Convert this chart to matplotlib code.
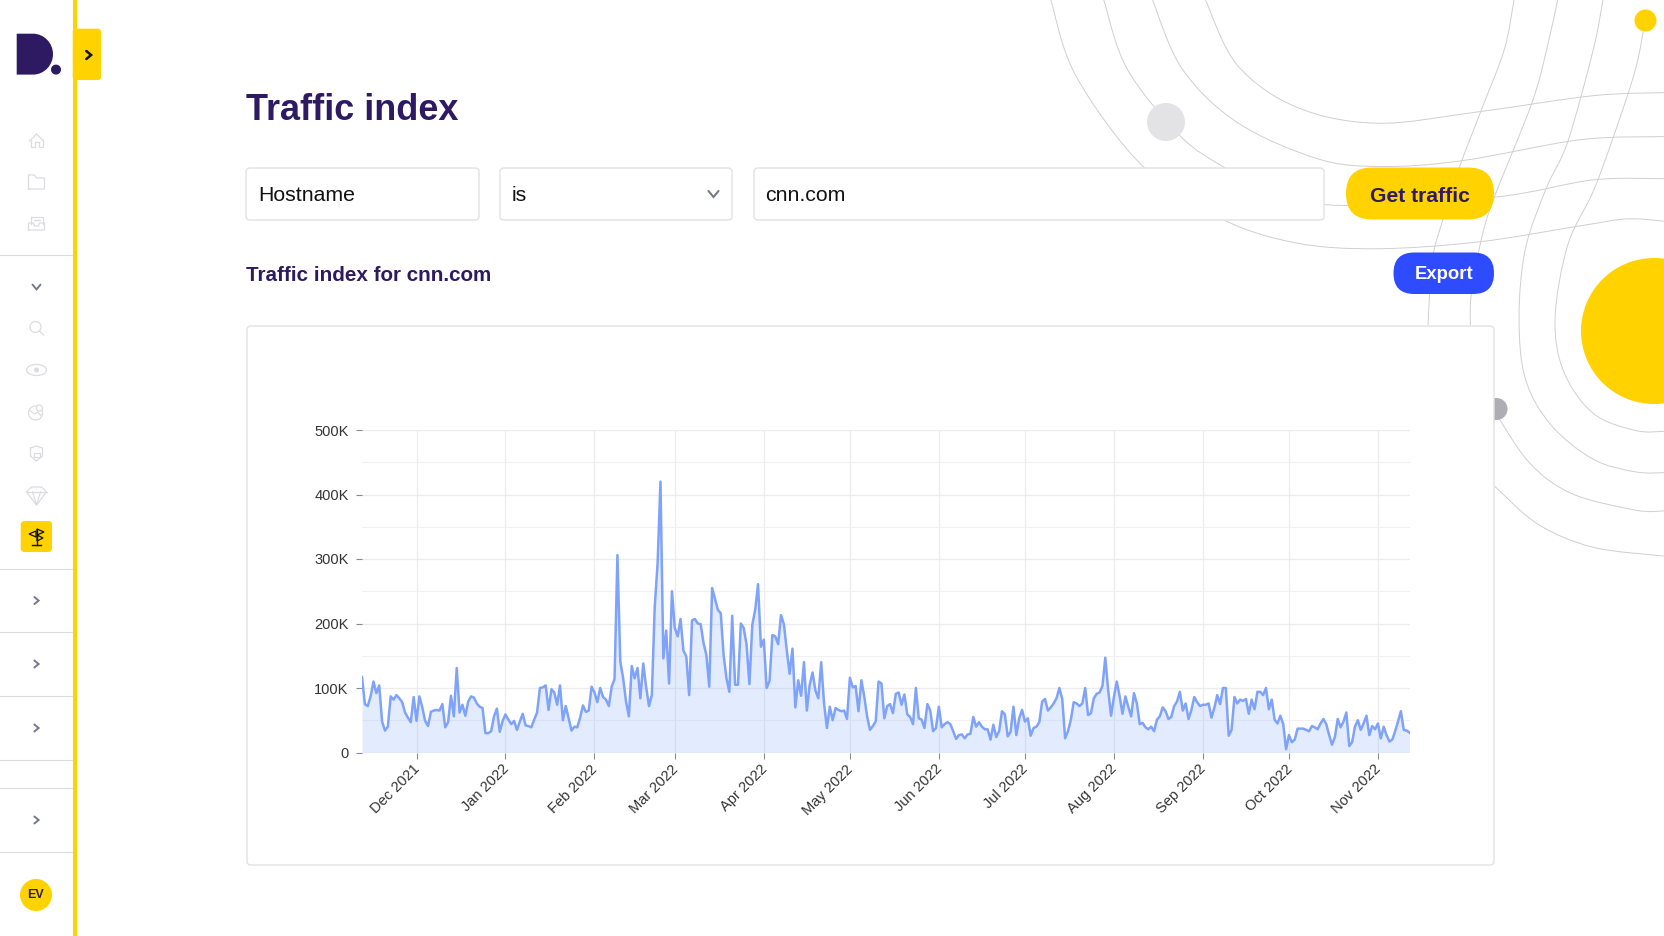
"""
Traffic index page for cnn.com: dashboard chrome drawn in pixel coordinates,
area chart of the daily traffic index on its own axes.
"""

import matplotlib
matplotlib.use("Agg")
import matplotlib.pyplot as plt
import numpy as np
import pandas as pd
from matplotlib.patches import Circle, Ellipse, FancyBboxPatch, PathPatch, Polygon, Rectangle
from matplotlib.path import Path

plt.rcParams["font.family"] = ["Liberation Sans", "DejaVu Sans"]

W, H = 1664, 936

PURPLE = "#2e1a63"
YELLOW = "#ffd200"
BLUE = "#2f4bff"
ICON = "#dcdce0"
BORDER = "#e2e2e4"
ARC = "#cfcfd2"

# ── Daily index values, in thousands, one list per month ─────────────────────
NOV_2021 = [117, 75, 72, 87, 110, 92, 104, 48, 34, 40, 87, 82, 89, 84, 78, 62, 54, 47, 86]
DEC_2021 = [49, 87, 70, 49, 41, 63, 65, 66, 65, 75, 39, 47, 88, 56, 131, 62, 74, 57, 79, 87,
            85, 76, 71, 69, 30, 30, 33, 56, 68, 32, 49]
JAN_2022 = [59, 51, 44, 49, 35, 48, 60, 42, 41, 39, 51, 62, 100, 101, 104, 66, 98, 93, 74, 104,
            50, 72, 53, 34, 40, 39, 54, 73, 63, 65, 102]
FEB_2022 = [93, 78, 100, 86, 82, 72, 102, 114, 306, 141, 115, 79, 56, 134, 115, 131, 84, 138,
            102, 72, 89, 226, 293, 420, 146, 189, 107, 250]
MAR_2022 = [193, 180, 207, 158, 149, 89, 205, 207, 200, 199, 170, 151, 102, 255, 238, 221, 216,
            151, 115, 94, 212, 105, 105, 200, 193, 167, 106, 198, 221, 261, 164]
APR_2022 = [175, 100, 111, 182, 180, 168, 213, 199, 159, 122, 161, 70, 112, 88, 140, 65, 105,
            124, 96, 84, 140, 76, 38, 71, 50, 69, 66, 64, 65, 52]
MAY_2022 = [116, 101, 103, 64, 112, 87, 56, 35, 41, 48, 110, 107, 53, 72, 75, 61, 91, 93, 74,
            90, 59, 55, 44, 100, 53, 51, 38, 75, 65, 33, 38]
JUN_2022 = [71, 39, 44, 47, 44, 33, 21, 27, 28, 22, 28, 29, 55, 40, 47, 40, 36, 36, 20, 43, 24,
            33, 64, 59, 25, 32, 71, 27, 53, 66]
JUL_2022 = [48, 53, 26, 38, 40, 47, 79, 83, 65, 70, 76, 84, 100, 83, 22, 33, 51, 78, 76, 72, 76,
            100, 58, 61, 84, 91, 93, 103, 147, 97, 57]
AUG_2022 = [86, 110, 87, 60, 87, 71, 56, 92, 76, 44, 46, 39, 36, 40, 33, 51, 56, 70, 64, 52, 55,
            72, 79, 94, 65, 76, 52, 66, 86, 78, 72]
SEP_2022 = [74, 74, 76, 54, 69, 89, 75, 100, 100, 26, 35, 86, 76, 82, 80, 83, 60, 82, 67, 94, 94,
            89, 100, 67, 82, 51, 45, 57, 44, 5]
OCT_2022 = [27, 16, 20, 37, 37, 37, 35, 33, 41, 39, 36, 45, 52, 44, 27, 12, 24, 52, 39, 48, 62,
            10, 16, 40, 50, 35, 45, 57, 27, 41, 36]
NOV_2022 = [45, 22, 40, 27, 17, 20, 33, 48, 64, 35, 34, 31]

MONTHS = ["2021-12-01", "2022-01-01", "2022-02-01", "2022-03-01", "2022-04-01", "2022-05-01",
          "2022-06-01", "2022-07-01", "2022-08-01", "2022-09-01", "2022-10-01", "2022-11-01"]
MONTH_LABELS = ["Dec 2021", "Jan 2022", "Feb 2022", "Mar 2022", "Apr 2022", "May 2022",
                "Jun 2022", "Jul 2022", "Aug 2022", "Sep 2022", "Oct 2022", "Nov 2022"]
Y_TICKS = [0, 100000, 200000, 300000, 400000, 500000]
Y_LABELS = ["0", "100K", "200K", "300K", "400K", "500K"]
Y_MINOR = [50000, 150000, 250000, 350000, 450000]

values = np.array(NOV_2021 + DEC_2021 + JAN_2022 + FEB_2022 + MAR_2022 + APR_2022 + MAY_2022
                  + JUN_2022 + JUL_2022 + AUG_2022 + SEP_2022 + OCT_2022 + NOV_2022) * 1000
dates = pd.date_range("2021-11-12", periods=len(values), freq="D")

# ── Background orbit lines (crop coordinates) ──
ORBITS = [
    [(485, 0), (560, 170), (700, 280), (890, 322), (1130, 292), (1400, 250), (1568, 242)],
    [(360, 0), (430, 180), (560, 320), (750, 415), (900, 435), (1090, 420), (1370, 365), (1568, 357)],
    [(245, 0), (300, 180), (425, 355), (530, 438), (650, 510), (820, 537), (1170, 515), (1400, 470), (1568, 467)],
    [(120, 0), (180, 200), (340, 438), (525, 573), (700, 635), (890, 650), (1130, 632), (1370, 590), (1480, 572), (1568, 578)],
    [(1213, 0), (1190, 130), (1135, 290), (1085, 435), (1045, 575), (1020, 680), (1010, 850)],
    [(1316, 0), (1290, 130), (1255, 270), (1165, 520), (1135, 630), (1112, 770), (1110, 850)],
    [(1423, 0), (1400, 130), (1340, 370), (1290, 490), (1240, 650), (1225, 830), (1240, 990), (1300, 1110), (1400, 1200), (1500, 1233), (1568, 1235)],
    [(1523, 50), (1500, 180), (1450, 350), (1400, 500), (1340, 640), (1310, 830), (1330, 970), (1400, 1080), (1500, 1125), (1568, 1127)],
    [(1167, 1075), (1250, 1210), (1350, 1290), (1500, 1333), (1568, 1335)],
    [(1167, 1270), (1270, 1370), (1400, 1430), (1568, 1453)],
]


def smooth_path(points):
    """Catmull-Rom spline through the crop points, as cubic Bezier pieces."""
    pts = np.array([(x / 2.36 + 1000, y / 2.613) for x, y in points])
    padded = np.vstack([pts[0], pts, pts[-1]])
    verts = [pts[0]]
    codes = [Path.MOVETO]
    for i in range(1, len(padded) - 2):
        p0, p1, p2, p3 = padded[i - 1], padded[i], padded[i + 1], padded[i + 2]
        verts += [p1 + (p2 - p0) / 6, p2 - (p3 - p1) / 6, p2]
        codes += [Path.CURVE4, Path.CURVE4, Path.CURVE4]
    return Path(verts, codes)


def rbox(ax, x0, y0, x1, y1, radius, face="white", edge="none", lw=1.0, z=3):
    ax.add_patch(FancyBboxPatch((x0, y0), x1 - x0, y1 - y0, boxstyle=f"round,pad=0,rounding_size={radius}",
                                facecolor=face, edgecolor=edge, linewidth=lw, zorder=z))


def chevron(ax, x, y, size=3.5, down=False, color="#77778f", lw=1.4):
    if down:
        xs, ys = [x - size, x, x + size], [y - size * 0.6, y + size * 0.6, y - size * 0.6]
    else:
        xs, ys = [x - size * 0.6, x + size * 0.6, x - size * 0.6], [y - size, y, y + size]
    ax.plot(xs, ys, color=color, lw=lw, zorder=5, solid_capstyle="round", solid_joinstyle="miter")


def draw_icons(ax):
    kw = dict(color=ICON, lw=0.9, zorder=5)
    cx = 36.5
    # home
    ax.plot([cx - 7, cx, cx + 7], [141, 134, 141], **kw)
    ax.plot([cx - 6, cx - 6, cx - 2, cx - 2, cx + 2, cx + 2, cx + 6, cx + 6],
            [140, 147, 147, 142, 142, 147, 147, 140], **kw)
    # folder
    ax.plot([cx - 8, cx - 8, cx - 2, cx, cx + 8, cx + 8, cx - 8], [189, 175, 175, 178, 178, 189, 189], **kw)
    # tray
    ax.plot([cx - 6, cx - 6, cx + 6, cx + 6], [224, 217, 217, 224], **kw)
    ax.plot([cx - 3, cx + 3], [220, 220], **kw)
    ax.plot([cx - 8, cx - 8, cx - 3, cx - 2, cx + 2, cx + 3, cx + 8, cx + 8, cx - 8],
            [230, 223, 223, 226, 226, 223, 223, 230, 230], **kw)
    # search
    ax.add_patch(Circle((cx - 1, 327), 5.5, fill=False, edgecolor=ICON, lw=0.9, zorder=5))
    ax.plot([cx + 3, cx + 7], [331, 335], **kw)
    # eye
    ax.add_patch(Ellipse((cx, 370), 20, 11, fill=False, edgecolor=ICON, lw=0.9, zorder=5))
    ax.add_patch(Circle((cx, 370), 2.5, facecolor=ICON, edgecolor="none", zorder=5))
    # globe
    ax.add_patch(Circle((cx - 1, 413), 7, fill=False, edgecolor=ICON, lw=0.9, zorder=5))
    ax.add_patch(Circle((cx + 3, 408), 3, facecolor="white", edgecolor=ICON, lw=0.9, zorder=6))
    ax.plot([cx - 6, cx - 2, cx + 1, cx + 5], [411, 414, 412, 416], **kw)
    # shield
    ax.plot([cx - 6, cx, cx + 6, cx + 6, cx, cx - 6, cx - 6], [448, 446, 448, 456, 461, 456, 448], **kw)
    ax.add_patch(Rectangle((cx - 3, 453), 6, 4, fill=False, edgecolor=ICON, lw=0.9, zorder=5))
    # diamond
    ax.plot([cx - 10, cx - 5, cx + 5, cx + 10, cx, cx - 10], [492, 487, 487, 492, 505, 492], **kw)
    ax.plot([cx - 10, cx + 10], [492, 492], **kw)
    ax.plot([cx - 4, cx, cx + 4], [492, 505, 492], **kw)


fig = plt.figure(figsize=(W / 100, H / 100), dpi=100, facecolor="white")

# ── Page chrome in pixel coordinates ─────────────────────────────────────────
bg = fig.add_axes([0, 0, 1, 1], zorder=0)
bg.set_xlim(0, W)
bg.set_ylim(H, 0)
bg.axis("off")

for orbit in ORBITS:
    bg.add_patch(PathPatch(smooth_path(orbit), fill=False, edgecolor=ARC, lw=0.7, zorder=1))

bg.add_patch(Circle((1166, 122), 19, facecolor="#e3e3e5", edgecolor="none", zorder=2))
bg.add_patch(Circle((1496.5, 409), 11, facecolor="#aeadb3", edgecolor="none", zorder=2))
bg.add_patch(Circle((1645.5, 20.5), 11, facecolor=YELLOW, edgecolor="none", zorder=2))
bg.add_patch(Circle((1654, 331), 73, facecolor=YELLOW, edgecolor="none", zorder=2))

# sidebar
bg.add_patch(Rectangle((72.7, 0), 4, H, facecolor=YELLOW, edgecolor="none", zorder=3))
rbox(bg, 72.7, 28.7, 101, 80, 3, face=YELLOW)
chevron(bg, 88.7, 55, size=4, color="#111111", lw=1.8)
logo = Path([(16.7, 33.7), (33, 33.7), (44, 33.7), (53, 43), (53, 54.2), (53, 65.4), (44, 74.6), (33, 74.6),
             (16.7, 74.6), (16.7, 33.7)],
            [Path.MOVETO, Path.LINETO, Path.CURVE4, Path.CURVE4, Path.CURVE4, Path.CURVE4, Path.CURVE4, Path.CURVE4,
             Path.LINETO, Path.CLOSEPOLY])
bg.add_patch(PathPatch(logo, facecolor=PURPLE, edgecolor="none", zorder=5))
bg.add_patch(Circle((56, 69.6), 5, facecolor=PURPLE, edgecolor="none", zorder=5))

for y in [255, 569, 632, 696, 760, 788, 852]:
    bg.plot([0, 72], [y, y], color="#dcdcdf", lw=0.8, zorder=4)
draw_icons(bg)
chevron(bg, 36.5, 287, size=4, down=True)
for y in [600.6, 664, 728, 820]:
    chevron(bg, 36.5, y, size=3.5)

rbox(bg, 20.7, 521, 52, 552, 4, face=YELLOW, z=4)
bg.plot([36.5, 36.5], [529, 545], color="#111111", lw=1.0, zorder=6)
bg.plot([32, 41], [545, 545], color="#111111", lw=1.0, zorder=6)
bg.add_patch(Polygon([(29, 534), (36, 531), (36, 537)], fill=False, edgecolor="#111111", lw=0.9, zorder=6))
bg.add_patch(Polygon([(37, 529), (44, 532), (37, 535)], fill=False, edgecolor="#111111", lw=0.9, zorder=6))
bg.add_patch(Polygon([(37, 535), (43, 538), (37, 541)], fill=False, edgecolor="#111111", lw=0.9, zorder=6))

bg.add_patch(Circle((36, 895), 16, facecolor=YELLOW, edgecolor="none", zorder=5))
bg.text(36, 895.5, "EV", ha="center", va="center", fontsize=9, fontweight="bold", color=PURPLE, zorder=6)

# header and form
bg.text(246, 111, "Traffic index", ha="left", va="center", fontsize=25.9, fontweight="bold", color=PURPLE, zorder=6)
for x0, x1 in [(246, 479), (500, 732), (754, 1324)]:
    rbox(bg, x0, 168, x1, 220, 4, edge=BORDER, lw=1.0)
bg.text(258, 195.5, "Hostname", ha="left", va="center", fontsize=15.3, color="#111111", zorder=6)
bg.text(511.5, 195.5, "is", ha="left", va="center", fontsize=15.3, color="#111111", zorder=6)
bg.text(765, 195.5, "cnn.com", ha="left", va="center", fontsize=15.3, color="#111111", zorder=6)
chevron(bg, 713.5, 194, size=5, down=True, lw=1.5)

rbox(bg, 1346, 167.5, 1494, 219.5, 26, face=YELLOW)
bg.text(1420, 196.5, "Get traffic", ha="center", va="center", fontsize=15.2, fontweight="bold", color=PURPLE, zorder=6)

bg.text(246, 275.5, "Traffic index for cnn.com", ha="left", va="center", fontsize=14.9, fontweight="bold", color=PURPLE, zorder=6)
rbox(bg, 1393.5, 252.5, 1494, 294, 20.7, face=BLUE)
bg.text(1444, 274.5, "Export", ha="center", va="center", fontsize=13.3, fontweight="bold", color="white", zorder=6)

rbox(bg, 247, 326, 1494, 865, 4, edge=BORDER, lw=1.0)

# ── Chart ────────────────────────────────────────────────────────────────────
PLOT_L, PLOT_R, PLOT_T, PLOT_B = 362, 1409.5, 430, 752.5
ax = fig.add_axes([PLOT_L / W, 1 - PLOT_B / H, (PLOT_R - PLOT_L) / W, (PLOT_B - PLOT_T) / H], zorder=1)
ax.patch.set_alpha(0)

ax.fill_between(dates, values, 0, color="#7fa3fb", alpha=0.21, linewidth=0, zorder=2)
ax.plot(dates, values, color="#7fa3fb", lw=1.8, solid_joinstyle="round", zorder=4)

ax.set_xlim(dates[0], dates[-1])
ax.set_ylim(0, 500000)
ax.set_xticks(pd.to_datetime(MONTHS))
ax.set_xticklabels([])
# month labels sit closer to the ticks than tick pad allows, so annotate them
for month, text in zip(pd.to_datetime(MONTHS), MONTH_LABELS):
    ax.annotate(text, (month, 0), xycoords=("data", "axes fraction"), xytext=(-4, -9.5),
                textcoords="offset pixels", rotation=45, ha="right", va="top",
                rotation_mode="anchor", fontsize=10.5, color="#333333", annotation_clip=False)
ax.set_yticks(Y_TICKS)
ax.set_yticklabels(Y_LABELS, fontsize=10.5, color="#333333")
ax.set_yticks(Y_MINOR, minor=True)
ax.tick_params(axis="both", which="major", length=4.6, width=0.8, color="#8a8a8a", pad=5)
ax.tick_params(axis="y", which="minor", length=0)
ax.grid(True, which="major", color="#ececee", lw=0.9, zorder=1)
ax.grid(True, which="minor", axis="y", color="#f1f1f3", lw=0.8, zorder=1)
ax.set_axisbelow(True)
for spine in ax.spines.values():
    spine.set_visible(False)

fig.savefig("out.png", dpi=100, facecolor="white")
plt.close(fig)
